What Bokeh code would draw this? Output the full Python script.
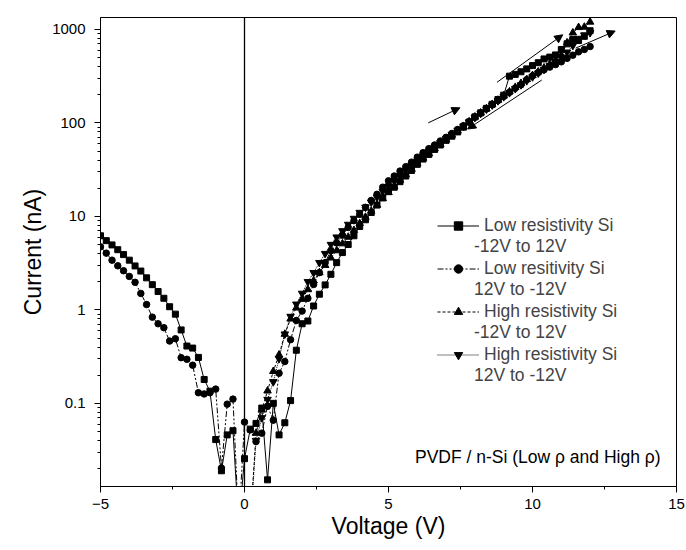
from bokeh.plotting import figure
from bokeh.models import (Span, Arrow, NormalHead, Label, Legend, LegendItem,
                          ColumnDataSource, CustomJSTickFormatter, FixedTicker)
from bokeh.embed import file_html
from bokeh.resources import INLINE

# ---------------- data ----------------
voltage_low = [-5.0, -4.8, -4.6, -4.4, -4.2, -4.0, -3.8, -3.6, -3.4, -3.2, -3.0, -2.8,
               -2.6, -2.4, -2.2, -2.0, -1.8, -1.6, -1.4, -1.2, -1.0, -0.8, -0.6, -0.4,
               -0.2, 0.0, 0.2, 0.4, 0.6, 0.8, 1.0, 1.2, 1.4, 1.6, 1.8, 2.0, 2.2, 2.4,
               2.6, 2.8, 3.0, 3.2, 3.4, 3.6, 3.8, 4.0, 4.2, 4.4, 4.6, 4.8, 5.0, 5.2,
               5.4, 5.6, 5.8, 6.0, 6.2, 6.4, 6.6, 6.8, 7.0, 7.2, 7.4, 7.6, 7.8, 8.0,
               8.2, 8.4, 8.6, 8.8, 9.0, 9.2, 9.4, 9.6, 9.8, 10.0, 10.2, 10.4, 10.6,
               10.8, 11.0, 11.2, 11.4, 11.6, 11.8, 12.0]

current_low_up = [6.2, 5.5, 4.95, 4.4, 3.9, 3.4, 2.95, 2.6, 2.2, 1.86, 1.57, 1.33,
                  1.08, 0.9, 0.61, 0.41, 0.39, 0.31, 0.18, 0.135, 0.041, 0.019, 0.046, 0.051,
                  0.005, 0.0256, 0.053, 0.061, 0.089, 0.0152, 0.1, 0.046, 0.062, 0.107, 0.37, 0.71, 0.76, 1.1,
                  1.47, 1.85, 2.4, 3.2, 4.1, 5.0, 6.2, 7.8, 9.2, 11.0, 13.2, 15.8, 18.5, 20.5,
                  23.5, 27, 31, 36, 41, 46, 52, 58, 65, 72, 80, 90, 102, 116,
                  128, 143, 158, 178, 198, 316, 330, 352, 378, 410, 440, 483, 505,
                  533, 610, 700, 778, 760, 843, 968]

current_low_down = [4.72, 4.04, 3.40, 2.96, 2.62, 2.28, 1.97, 1.50, 1.14, 0.836, 0.71, 0.644,
                    0.464, 0.491, 0.308, 0.296, 0.256, 0.13, 0.126, 0.13, 0.142, 0.0203, 0.098, 0.111,
                    0.005, 0.063, 0.052, 0.039, 0.048, 0.093, 0.066, 0.21, 0.28, 0.48, 0.77, 0.97, 1.33, 1.87,
                    2.5, 3.2, 4.3, 5.2, 6.3, 7.6, 9.0, 10.5, 12.5, 14.8, 17.2, 20.5, 24, 27,
                    30.5, 34, 38, 43, 48, 53, 58, 64, 70, 77, 85, 93, 103, 115,
                    127, 141, 156, 173, 192, 212, 235, 255, 290, 318, 345, 370, 395,
                    420, 450, 490, 530, 575, 610, 655]

voltage_high = [0.2, 0.4, 0.6, 0.8, 1.0, 1.2, 1.4, 1.6, 1.8, 2.0, 2.2, 2.4,
                2.6, 2.8, 3.0, 3.2, 3.4, 3.6, 3.8, 4.0, 4.2, 4.4, 4.6, 4.8, 5.0, 5.2,
                5.4, 5.6, 5.8, 6.0, 6.2, 6.4, 6.6, 6.8, 7.0, 7.2, 7.4, 7.6, 7.8, 8.0,
                8.2, 8.4, 8.6, 8.8, 9.0, 9.2, 9.4, 9.6, 9.8, 10.0, 10.2, 10.4, 10.6,
                10.8, 11.0, 11.2, 11.4, 11.6, 11.8, 12.0]

current_high_up = [0.005, 0.048, 0.085, 0.136, 0.22, 0.33, 0.55, 0.8, 1.05, 1.3, 1.65, 2.05,
                   2.5, 3.0, 3.6, 4.3, 5.1, 6.0, 7.1, 8.4, 9.8, 11.4, 13.2, 15.5, 18, 21,
                   24.5, 28, 32, 37, 42, 47, 53, 59, 66, 74, 82, 92, 103, 116,
                   128, 142, 158, 175, 195, 215, 240, 265, 292, 322, 352, 388, 425,
                   470, 530, 720, 920, 1050, 1060, 1200]

current_high_down = [0.005, 0.04, 0.07, 0.11, 0.17, 0.3, 0.55, 0.85, 1.15, 1.5, 2.0, 2.5,
                     3.2, 4.0, 5.0, 6.0, 7.0, 8.2, 9.5, 11, 12.5, 14.2, 16, 18.5, 21, 24,
                     27, 31, 35, 39, 44, 49, 55, 61, 68, 75, 83, 92, 102, 114,
                     126, 140, 155, 172, 190, 210, 232, 255, 282, 310, 340, 372, 408,
                     448, 495, 570, 670, 800, 870, 920]

legend_titles = ["Low resistivity Si", "Low resitivity Si",
                 "High resistivity Si", "High resistivity Si"]
legend_sweeps = ["-12V to 12V", "12V to -12V", "-12V to 12V", "12V to -12V"]

# arrows: (x_start, y_start, x_end, y_end)
arrow_paths = [(6.38, 100, 7.48, 145),
               (8.77, 272, 11.05, 875),
               (10.32, 287, 7.75, 86),
               (11.5, 630, 12.87, 960)]

assert len(voltage_low) == len(current_low_up) == len(current_low_down)
assert len(voltage_high) == len(current_high_up) == len(current_high_down)

FONT = "Liberation Sans"

p = figure(width=686, height=550, y_axis_type="log",
           x_range=(-5, 15), y_range=(0.0129, 1340),
           output_backend="svg", toolbar_location=None,
           min_border_left=100, min_border_right=10, min_border_top=17, min_border_bottom=64)
p.background_fill_color = "white"
p.border_fill_color = "white"
p.outline_line_color = "black"
p.outline_line_width = 1
p.xgrid.visible = False
p.ygrid.visible = False

# vertical line at V = 0
p.add_layout(Span(location=0, dimension="height", line_color="black", line_width=1.3))

series = [
    (voltage_low, current_low_up, "square", 6, "solid"),
    (voltage_low, current_low_down, "circle", 6.5, "6 2 2 2 2 2"),
    (voltage_high, current_high_up, "triangle", 7.5, "3 2"),
    (voltage_high, current_high_down, "inverted_triangle", 7.5, "1 1"),
]

items_top = []
items_bottom = []
for i, (xs, ys, marker, size, dash) in enumerate(series):
    src = ColumnDataSource(dict(x=xs, y=ys))
    lr = p.line("x", "y", source=src, line_color="black", line_width=1, line_dash=dash)
    sr = p.scatter("x", "y", source=src, marker=marker, size=size,
                   fill_color="black", line_color="black")
    dummy = p.scatter(x=[], y=[], size=1, fill_alpha=0, line_alpha=0)
    items_top.append(LegendItem(label=legend_titles[i], renderers=[lr, sr]))
    items_bottom.append(LegendItem(label=legend_sweeps[i], renderers=[dummy]))

common = dict(label_text_font=FONT, label_text_font_size="17.5px",
              glyph_height=21, label_height=21, spacing=22,
              padding=0, margin=0, label_standoff=5,
              border_line_alpha=0, background_fill_alpha=0)
legend1 = Legend(items=items_top, location=(337, 121), glyph_width=42, **common)
legend2 = Legend(items=items_bottom, location=(337, 100), glyph_width=32, **common)
p.add_layout(legend1)
p.add_layout(legend2)

for xs_, ys_, xe_, ye_ in arrow_paths:
    p.add_layout(Arrow(end=NormalHead(size=8, fill_color="black", line_color="black", line_width=1),
                       x_start=xs_, y_start=ys_, x_end=xe_, y_end=ye_,
                       line_color="black", line_width=1))

p.add_layout(Label(x=5.92, y=0.0265, text="PVDF / n-Si (Low \u03c1 and High \u03c1)",
                   text_font=FONT, text_font_size="17.5px", text_baseline="middle",
                   text_color="black"))

# axes
p.xaxis.ticker = FixedTicker(ticks=[-5, 0, 5, 10, 15], minor_ticks=[-2.5, 2.5, 7.5, 12.5])
p.xaxis.axis_label = "Voltage (V)"
p.yaxis.axis_label = "Current (nA)"
p.yaxis.formatter = CustomJSTickFormatter(code="return String(Number(tick.toPrecision(6)));")
for ax in (p.xaxis[0], p.yaxis[0]):
    ax.axis_line_color = "black"
    ax.major_tick_line_color = "black"
    ax.minor_tick_line_color = "black"
    ax.major_tick_out = 6
    ax.major_tick_in = 0
    ax.minor_tick_out = 3
    ax.minor_tick_in = 0
    ax.major_label_text_font = FONT
    ax.major_label_text_font_size = "15px"
    ax.major_label_text_color = "black"
    ax.axis_label_text_font = FONT
    ax.axis_label_text_font_size = "23px"
    ax.axis_label_text_font_style = "normal"
    ax.axis_label_text_color = "black"
p.xaxis.major_label_standoff = 6
p.xaxis.axis_label_standoff = 1
p.yaxis.major_label_standoff = 9
p.yaxis.axis_label_standoff = 3

open("out.html", "w").write(file_html(p, INLINE))
